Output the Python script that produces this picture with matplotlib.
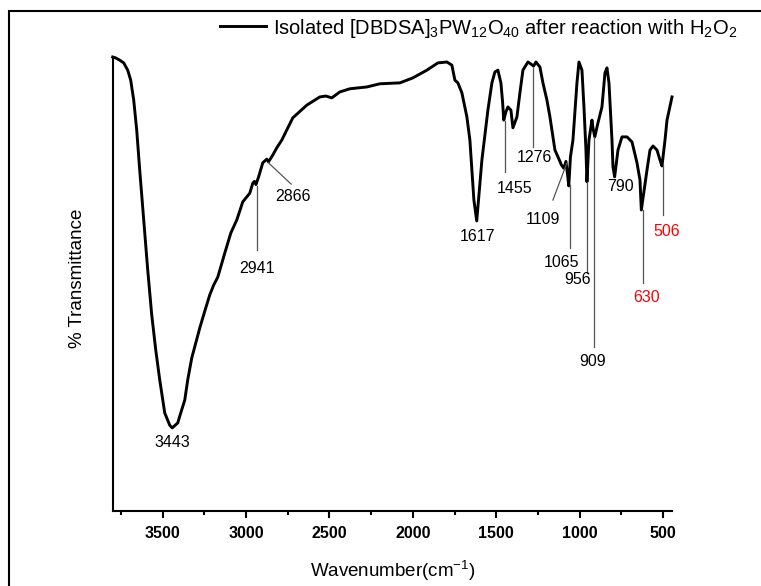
import matplotlib.pyplot as plt
from matplotlib.patches import Rectangle

plt.rcParams['font.family'] = ['Liberation Sans', 'DejaVu Sans']
plt.rcParams['mathtext.fontset'] = 'custom'
plt.rcParams['mathtext.rm'] = 'Liberation Sans'
plt.rcParams['mathtext.default'] = 'regular'

# FTIR spectrum
wavenumber = [3800, 3782, 3758, 3734, 3710, 3692, 3674, 3656, 3638, 3614,
              3590, 3566, 3542, 3518, 3488, 3458, 3443, 3410, 3392, 3368,
              3350, 3326, 3302, 3278, 3248, 3218, 3194, 3170, 3128, 3092,
              3056, 3020, 2978, 2960, 2950, 2941, 2925, 2900, 2876, 2866,
              2840, 2816, 2786, 2720, 2636, 2558, 2522, 2486, 2438, 2378,
              2276, 2198, 2078, 2000, 1916, 1850, 1796, 1766, 1748, 1730,
              1706, 1676, 1658, 1646, 1634, 1617, 1604, 1586, 1568, 1550,
              1526, 1508, 1490, 1472, 1462, 1455, 1442, 1430, 1412, 1400,
              1376, 1358, 1340, 1310, 1290, 1276, 1262, 1238, 1220, 1196,
              1178, 1148, 1125, 1109, 1095, 1082, 1072, 1065, 1055, 1040,
              1016, 1004, 986, 974, 962, 956, 944, 926, 920, 909,
              890, 866, 848, 836, 824, 806, 800, 790, 770, 746,
              716, 686, 656, 638, 630, 596, 578, 560, 536, 518,
              506, 488, 476, 446]
transmittance = [100.0, 99.8, 99.3, 98.7, 97.1, 94.9, 90.5, 83.9, 75.1, 64.1,
                 53.1, 43.2, 35.5, 28.9, 21.6, 18.9, 18.3, 19.4, 21.6, 24.4,
                 28.9, 33.7, 37.0, 40.3, 44.0, 47.6, 49.8, 51.5, 56.8, 61.2,
                 64.1, 68.1, 70.0, 72.2, 72.6, 71.9, 73.6, 76.7, 77.5, 76.9,
                 78.4, 80.0, 81.7, 86.6, 89.4, 91.2, 91.4, 91.0, 92.3, 93.0,
                 93.4, 94.1, 94.3, 95.4, 97.1, 98.7, 98.9, 98.2, 94.9, 94.3,
                 92.1, 86.8, 81.7, 75.1, 68.5, 63.9, 69.6, 77.3, 82.8, 88.3,
                 94.3, 96.7, 97.1, 94.3, 90.1, 86.1, 87.9, 89.0, 88.3, 84.4,
                 86.8, 92.1, 97.1, 98.9, 98.4, 98.0, 98.9, 97.8, 94.3, 90.5,
                 86.8, 79.5, 77.6, 76.2, 75.5, 77.0, 74.0, 71.6, 78.0, 81.7,
                 94.3, 98.9, 97.1, 89.0, 79.5, 72.5, 81.7, 86.1, 84.4, 82.4,
                 85.5, 89.0, 96.5, 97.6, 94.3, 81.7, 75.8, 73.6, 79.5, 82.4,
                 82.4, 81.3, 76.7, 72.9, 66.3, 75.1, 79.5, 80.4, 79.5, 77.3,
                 76.0, 81.7, 86.1, 91.2]

# peak labels: text, label centre (wn, T), leader line (wn0, T0, wn1, T1) or None
peak_names = ['3443', '2941', '2866', '1617', '1455', '1276', '1109',
              '1065', '956', '909', '790', '630', '506']
label_wn = [3443, 2935, 2720, 1610, 1388, 1268, 1220, 1106, 1010, 920, 758, 596, 476]
label_T = [15.0, 53.5, 69.2, 60.5, 71.1, 77.8, 64.1, 54.8, 50.9, 33.0, 71.4, 47.1, 61.5]
leaders = [None,
           (2935, 71.6, 2935, 57.5),
           (2866, 76.7, 2730, 72.0),
           None,
           (1450, 86.0, 1450, 74.7),
           (1280, 97.6, 1280, 80.2),
           (1078, 76.5, 1160, 68.5),
           (1060, 71.8, 1060, 57.9),
           (956, 72.5, 956, 52.4),
           (912, 82.4, 912, 36.1),
           None,
           (622, 66.3, 622, 50.2),
           (500, 76.2, 500, 65.2)]
red_peaks = ['630', '506']

fig = plt.figure(figsize=(7.61, 5.86), dpi=100)
ax = fig.add_axes([112.7 / 761, 1 - 511 / 586, (672 - 112.7) / 761, (511 - 57) / 586])

ax.plot(wavenumber, transmittance, color='black', lw=2.1, clip_on=False,
        solid_joinstyle='round',
        label=r'Isolated [DBDSA]$_3$PW$_{12}$O$_{40}$ after reaction with H$_2$O$_2$')

for name, tx, ty, ld in zip(peak_names, label_wn, label_T, leaders):
    if ld is not None:
        ax.plot([ld[0], ld[2]], [ld[1], ld[3]], color='#555555', lw=0.9)
    col = 'red' if name in red_peaks else 'black'
    ax.text(tx, ty, name, ha='center', va='center', fontsize=11.5, color=col)

ax.set_xlim(3800, 446)
ax.set_ylim(0, 100)
ax.set_xticks([3500, 3000, 2500, 2000, 1500, 1000, 500])
ax.set_xticks([3750, 3250, 2750, 2250, 1750, 1250, 750], minor=True)
ax.set_yticks([])
ax.spines['top'].set_visible(False)
ax.spines['right'].set_visible(False)
ax.spines['left'].set_linewidth(1.5)
ax.spines['bottom'].set_linewidth(1.5)
ax.tick_params(axis='x', which='major', direction='out', length=5, width=1.5, pad=6)
ax.tick_params(axis='x', which='minor', direction='out', length=3, width=1.5)
for lab in ax.get_xticklabels():
    lab.set_fontweight('bold')
    lab.set_fontsize(11.5)

ax.set_xlabel('Wavenumber(cm$^{-1}$)', fontsize=13.5, labelpad=13)
fig.text(78 / 761, 1 - 278 / 586, '% Transmittance', rotation=90,
         ha='center', va='center', fontsize=13.5)

ax.legend(loc='center left', bbox_to_anchor=(220 / 761, 1 - 28 / 586),
          bbox_transform=fig.transFigure, frameon=False, fontsize=14.5,
          borderpad=0, borderaxespad=0, handlelength=2.3, handletextpad=0.35)

fig.add_artist(Rectangle((9 / 761, -0.1), 1.2, 1.1 - 11 / 586, fill=False,
                         lw=1.5, edgecolor='black', transform=fig.transFigure))

fig.savefig('out.png', dpi=100)
